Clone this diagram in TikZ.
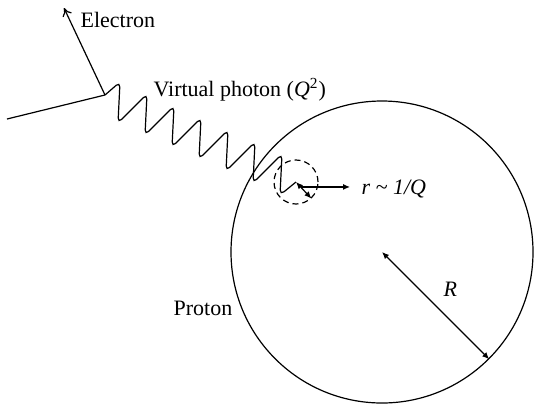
\documentclass[tikz,border=0pt]{standalone}
\usepackage{fontspec}
\setmainfont{Liberation Serif}
\usetikzlibrary{positioning}
\usetikzlibrary{calc}
\usetikzlibrary{arrows.meta}

\begin{document}
\begin{tikzpicture}[x=0.5pt, y=0.5pt, line width=0.6pt,
    every node/.style={font=\fontsize{11}{13}\selectfont},
    label/.style={anchor=base west, inner sep=0},
    twohead/.style={{Latex[length=3.5pt,width=3pt]}-{Latex[length=3.5pt,width=3pt]}}]
    \useasboundingbox (0,0) rectangle (534,404);
    % electron
    \coordinate (ein) at (7,285);
    \coordinate (vertex) at (105,309);
    \coordinate (eout) at (64,396);
    \draw (ein) -- (vertex);
    \draw[-{To[length=4pt,width=5pt]}] (vertex) -- (eout);
    \node[label] (electron) at (80,377) {Electron};
    % proton and the probed spot
    \node[circle, draw, minimum size=151pt, inner sep=0] (proton) at (382,152) {};
    \node[circle, draw, dash pattern=on 3pt off 2pt, minimum size=22pt, inner sep=0] (spot) at (296,222) {};
    \node[label] (protonlabel) at (173,89) {Proton};
    % virtual photon
    \draw[rounded corners=2.5pt] (vertex)
        \foreach \k in {0,...,6} { -- ({120+27*\k},{322-12*\k}) -- ({118+27*\k},{281-12*\k}) }
        -- (spot.center);
    \node[label] (photon) at (153,308) {Virtual photon (\textit{Q}\textsuperscript{2})};
    % sizes
    \draw[twohead] (proton.center) -- (proton.-45);
    \node[label] (rbig) at (443,108) {\textit{R}};
    \draw[twohead] (spot.center) -- (spot.-47);
    \coordinate (tap) at ($(spot.center)!0.3!(spot.-47)$);
    \node[label] (rsmall) at (361,210) {\textit{r \textasciitilde{} 1/Q}};
    \draw[-{Latex[length=3.5pt,width=3pt]}] (tap) -- ($(tap -| rsmall.west)+(-11,0)$);
\end{tikzpicture}
\end{document}
